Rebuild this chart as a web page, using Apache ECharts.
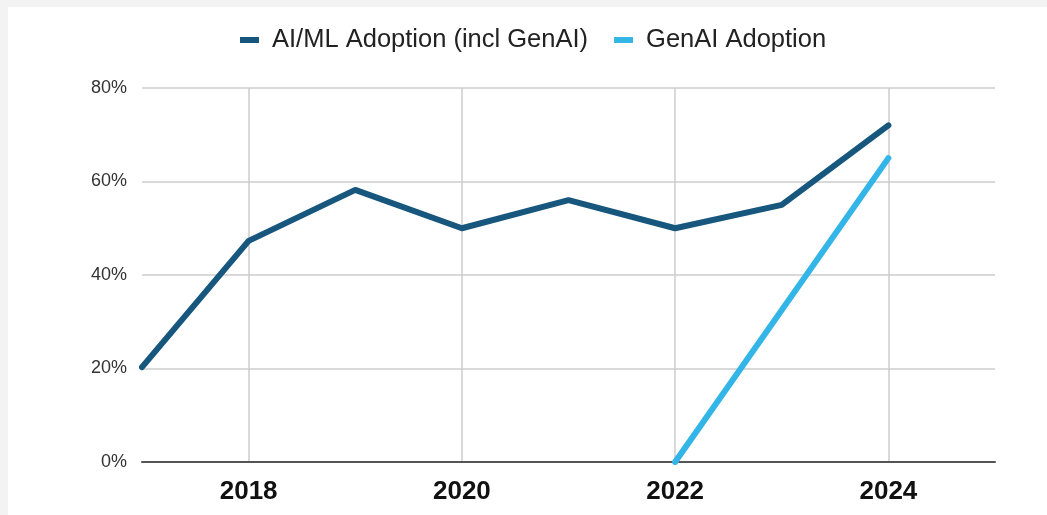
<!DOCTYPE html>
<html>
<head>
<meta charset="utf-8">
<script src="https://cdn.jsdelivr.net/npm/echarts@6/dist/echarts.min.js"></script>
<style>
html,body{margin:0;padding:0;background:#f3f3f3;width:1047px;height:515px;overflow:hidden;}
#panel{position:absolute;left:8px;top:7px;width:1039px;height:508px;background:#fff;}
#chart{position:absolute;left:0;top:0;width:1047px;height:515px;}
</style>
</head>
<body>
<div id="panel"></div>
<div id="chart"></div>
<script>
const years = ['2017','2018','2019','2020','2021','2022','2023','2024','2025'];
const aimlAdoption = [20.3, 47.3, 58.2, 50, 56, 50, 55, 72, null];
const genaiAdoption = [null, null, null, null, null, 0, null, 65, null];
const yTicks = [0, 20, 40, 60, 80];
const seriesNames = ['AI/ML Adoption (incl GenAI)', 'GenAI Adoption'];

const chart = echarts.init(document.getElementById('chart'), null, {renderer: 'canvas'});
const showEven = (i) => i % 2 === 1;
chart.setOption({
  backgroundColor: 'transparent',
  animation: false,
  legend: {
    top: 22,
    left: 235,
    icon: 'rect',
    itemWidth: 19,
    itemHeight: 6,
    itemGap: 26,
    textStyle: {fontFamily: 'Liberation Sans, Arial', fontSize: 25.5, color: '#222', padding: [0, 0, 0, 8]},
    data: seriesNames
  },
  grid: {left: 142, right: 52, top: 88, bottom: 53},
  xAxis: {
    type: 'category',
    data: years,
    boundaryGap: false,
    axisLine: {lineStyle: {color: '#555', width: 2}},
    axisTick: {show: false},
    axisLabel: {interval: (i) => showEven(i), fontFamily: 'Liberation Sans, Arial', fontWeight: 'bold', fontSize: 26, color: '#111', margin: 17},
    splitLine: {show: true, interval: (i) => showEven(i), lineStyle: {color: '#cccccc', width: 1.5}}
  },
  yAxis: {
    type: 'value',
    min: yTicks[0],
    max: yTicks[yTicks.length - 1],
    interval: 20,
    axisLine: {show: false},
    axisTick: {show: false},
    axisLabel: {formatter: '{value}%', fontFamily: 'Liberation Sans, Arial', fontSize: 18, color: '#333', margin: 15},
    splitLine: {lineStyle: {color: '#cccccc', width: 1.5}}
  },
  series: [
    {
      name: seriesNames[0], type: 'line', data: aimlAdoption,
      symbol: 'none', color: '#17577e',
      lineStyle: {width: 6, cap: 'round', join: 'round', color: '#17577e'}
    },
    {
      name: seriesNames[1], type: 'line', data: genaiAdoption, connectNulls: true,
      symbol: 'none', color: '#33b5e8',
      lineStyle: {width: 6, cap: 'round', join: 'round', color: '#33b5e8'}
    }
  ]
});
</script>
</body>
</html>
